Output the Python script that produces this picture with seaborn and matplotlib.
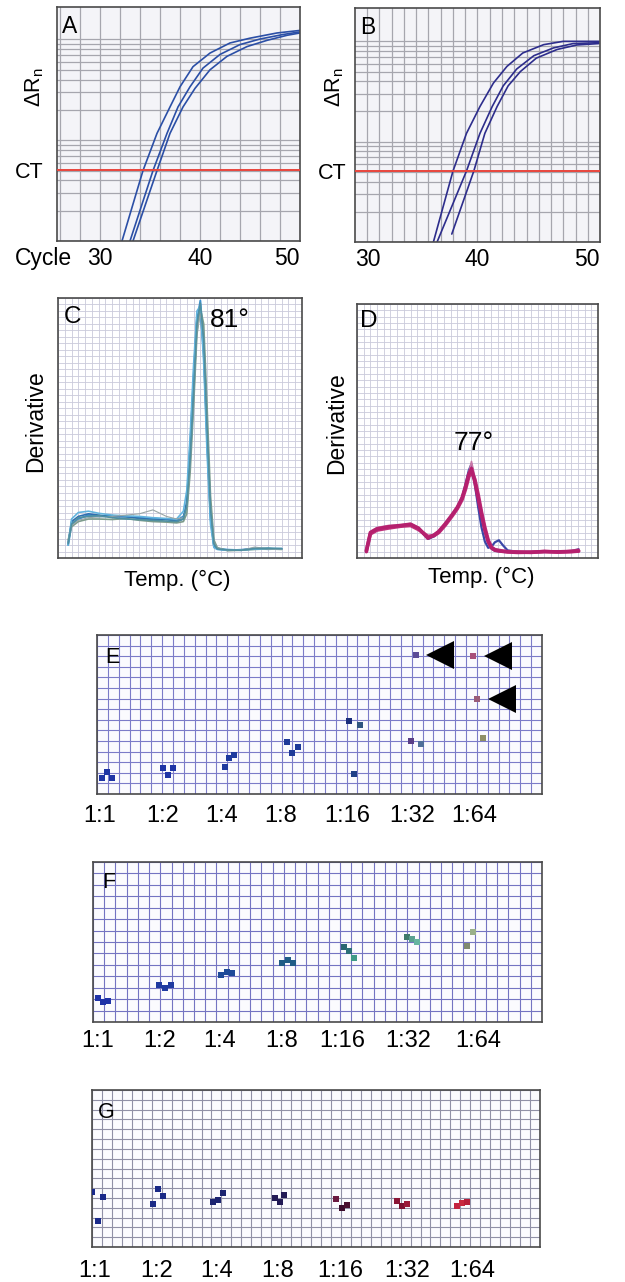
import numpy as np
import pandas as pd
import matplotlib
matplotlib.use("Agg")
import matplotlib.pyplot as plt
from matplotlib.ticker import NullFormatter
from matplotlib.transforms import ScaledTranslation
import seaborn as sns

sns.set_style("white")
plt.rcParams['font.family'] = ['Liberation Sans', 'DejaVu Sans']
plt.rcParams['mathtext.default'] = 'regular'
plt.rcParams['text.color'] = 'black'
plt.rcParams['xtick.color'] = 'black'
plt.rcParams['ytick.color'] = 'black'

# ---------------- data ----------------
# A: amplification curves (cycle, delta Rn)
a1_cycle = [32.2, 34.3, 35.7, 37.0, 38.0, 39.3, 41.0, 43.0, 45.0, 47.7, 50.0]
a1_drn = [0.010, 0.050, 0.117, 0.214, 0.339, 0.537, 0.733, 0.923, 1.03, 1.16, 1.23]
a2_cycle = [33.0, 35.3, 36.7, 37.8, 39.0, 40.3, 42.0, 44.0, 46.0, 48.3, 50.0]
a2_drn = [0.010, 0.050, 0.117, 0.214, 0.339, 0.52, 0.71, 0.89, 1.01, 1.12, 1.19]
a3_cycle = [33.3, 35.7, 37.0, 38.3, 39.5, 41.0, 42.7, 44.7, 46.7, 48.7, 50.0]
a3_drn = [0.010, 0.050, 0.117, 0.214, 0.327, 0.50, 0.68, 0.85, 0.98, 1.10, 1.16]

# B: amplification curves
b1_cycle = [36.4, 38.0, 39.1, 40.2, 41.3, 42.4, 43.7, 45.4, 47.0, 49.9]
b1_drn = [0.010, 0.051, 0.121, 0.224, 0.384, 0.562, 0.766, 0.927, 1.0, 1.0]
b2_cycle = [36.7, 39.1, 40.2, 41.2, 42.1, 43.2, 44.6, 46.2, 47.8, 49.9]
b2_drn = [0.010, 0.051, 0.121, 0.224, 0.36, 0.53, 0.72, 0.86, 0.95, 0.97]
b3_cycle = [37.9, 39.7, 40.6, 41.6, 42.5, 43.5, 44.8, 46.5, 48.1, 49.9]
b3_drn = [0.012, 0.051, 0.121, 0.224, 0.36, 0.50, 0.68, 0.83, 0.92, 0.95]

ct_threshold = 0.051

# C: melt derivative curves, peak 81 deg
c_temp = [61.5, 62, 63, 64.5, 66, 68, 70, 72, 74, 76, 77.5, 78.5, 79, 79.5, 80,
          80.5, 81, 81.5, 82, 82.5, 83, 83.5, 85, 87, 89, 91, 93]
c_curves = [
    [0.05, 0.13, 0.15, 0.165, 0.16, 0.162, 0.158, 0.155, 0.152, 0.148, 0.145, 0.16, 0.20, 0.40,
     0.65, 0.91, 0.99, 0.82, 0.47, 0.17, 0.05, 0.036, 0.032, 0.03, 0.037, 0.034, 0.036],
    [0.06, 0.14, 0.16, 0.17, 0.165, 0.158, 0.16, 0.152, 0.148, 0.15, 0.14, 0.15, 0.22, 0.44,
     0.70, 0.93, 0.95, 0.78, 0.44, 0.15, 0.045, 0.034, 0.03, 0.032, 0.035, 0.036, 0.034],
    [0.07, 0.12, 0.14, 0.15, 0.15, 0.148, 0.152, 0.145, 0.14, 0.138, 0.135, 0.14, 0.17, 0.33,
     0.58, 0.86, 0.96, 0.90, 0.58, 0.24, 0.07, 0.04, 0.028, 0.03, 0.033, 0.035, 0.033],
    [0.05, 0.15, 0.175, 0.18, 0.172, 0.165, 0.162, 0.16, 0.155, 0.152, 0.15, 0.18, 0.26, 0.47,
     0.74, 0.95, 0.97, 0.75, 0.40, 0.13, 0.04, 0.033, 0.03, 0.031, 0.034, 0.037, 0.035],
    [0.06, 0.125, 0.145, 0.155, 0.158, 0.16, 0.165, 0.17, 0.185, 0.16, 0.15, 0.155, 0.19, 0.36,
     0.60, 0.87, 0.94, 0.86, 0.52, 0.20, 0.06, 0.038, 0.03, 0.029, 0.042, 0.036, 0.034],
    [0.055, 0.13, 0.155, 0.16, 0.163, 0.155, 0.15, 0.148, 0.145, 0.142, 0.14, 0.15, 0.20, 0.38,
     0.63, 0.90, 0.98, 0.84, 0.50, 0.19, 0.055, 0.035, 0.031, 0.03, 0.036, 0.038, 0.036],
]
c_colors = ['#3a8fd0', '#2f6fb0', '#7d9c8c', '#62b4de', '#9aa6a6', '#4f8fa0']
c_widths = [1.4, 1.2, 1.2, 1.2, 0.8, 1.2]

# D: melt derivative curves, peak 77 deg
d_temp = [61.4, 62, 63, 64.7, 66.5, 68, 69.2, 70.6, 71.5, 72.2, 73.2, 74.2, 75, 75.7, 76.2,
          76.7, 77.1, 77.6, 78.1, 78.6, 79.1, 79.6, 80.1, 80.6, 81.2, 81.8, 82.5, 84, 86, 88,
          90, 92, 93.1]
d_curves = [
    [0.03, 0.10, 0.112, 0.12, 0.126, 0.13, 0.115, 0.075, 0.085, 0.10, 0.13, 0.168, 0.20, 0.24,
     0.29, 0.345, 0.37, 0.29, 0.20, 0.12, 0.065, 0.04, 0.045, 0.062, 0.07, 0.05, 0.03, 0.024,
     0.023, 0.024, 0.025, 0.027, 0.03],
    [0.028, 0.098, 0.113, 0.121, 0.127, 0.131, 0.114, 0.08, 0.092, 0.103, 0.133, 0.168, 0.198,
     0.235, 0.278, 0.33, 0.36, 0.305, 0.24, 0.172, 0.108, 0.06, 0.036, 0.028, 0.026, 0.025,
     0.024, 0.023, 0.024, 0.025, 0.026, 0.027, 0.035],
    [0.025, 0.105, 0.12, 0.128, 0.13, 0.136, 0.12, 0.082, 0.094, 0.108, 0.138, 0.172, 0.205,
     0.24, 0.285, 0.335, 0.38, 0.32, 0.245, 0.175, 0.11, 0.062, 0.038, 0.03, 0.027, 0.026,
     0.025, 0.024, 0.025, 0.026, 0.025, 0.03, 0.029],
    [0.03, 0.095, 0.11, 0.118, 0.125, 0.128, 0.112, 0.085, 0.088, 0.10, 0.13, 0.165, 0.195,
     0.23, 0.27, 0.32, 0.34, 0.31, 0.25, 0.18, 0.12, 0.07, 0.042, 0.033, 0.03, 0.027, 0.025,
     0.024, 0.022, 0.026, 0.023, 0.025, 0.027],
    [0.025, 0.10, 0.115, 0.123, 0.128, 0.133, 0.117, 0.078, 0.09, 0.104, 0.135, 0.17, 0.20,
     0.237, 0.28, 0.33, 0.352, 0.30, 0.235, 0.17, 0.11, 0.064, 0.04, 0.031, 0.028, 0.026,
     0.024, 0.022, 0.023, 0.025, 0.024, 0.026, 0.028],
]
d_colors = ['#3a48a8', '#7a3a90', '#c87aa8', '#c0307a', '#b5206e']
d_widths = [1.6, 1.6, 1.2, 2.6, 2.6]

# E, F, G: dilution series (plate cell units)
dilutions = ["1:1", "1:2", "1:4", "1:8", "1:16", "1:32", "1:64"]

e_x = [0.43, 0.89, 1.35, 6.05, 6.51, 7.03, 11.79, 12.19, 12.65, 17.53, 17.99, 18.52,
       23.19, 24.23, 23.71, 28.90, 29.88, 29.39, 34.67, 35.04, 35.54]
e_y = [1.54, 2.05, 1.54, 2.42, 1.76, 2.42, 2.55, 3.42, 3.65, 4.91, 3.90, 4.41,
       6.92, 6.54, 1.86, 5.00, 4.75, 13.11, 13.02, 8.93, 5.25]
e_col = ['#1f35a5'] * 6 + ['#1e3a9e'] * 3 + ['#1e3a98'] * 3 + \
        ['#1c2f7c', '#2f5580', '#1f3f86', '#5a3f86', '#50709a', '#5c4c96',
         '#a8507a', '#9a5c78', '#8f8f66']
e_flagged = [17, 18, 19]

f_x = [0.47, 0.92, 1.36, 5.91, 6.41, 6.91, 11.40, 11.91, 12.36, 16.81, 17.34, 17.84,
       22.39, 22.83, 23.25, 27.95, 28.39, 28.89, 33.35, 33.83]
f_y = [2.13, 1.78, 1.84, 3.24, 2.95, 3.24, 4.11, 4.40, 4.26, 5.13, 5.42, 5.13,
       6.59, 6.21, 5.57, 7.41, 7.23, 6.97, 6.65, 7.85]
f_col = ['#1f33a8'] * 3 + ['#1f3aa0'] * 3 + ['#1e4a98'] * 3 + ['#1f5c86'] * 3 + \
        ['#2a6670', '#2d6f78', '#3f9a86', '#3f7a6a', '#5aa090', '#66b4a0', '#808a70', '#9ab08a']

g_x = [0.03, 1.07, 0.57, 6.10, 6.60, 7.16, 12.12, 12.63, 13.19, 18.38, 18.88, 19.32,
       24.51, 25.08, 25.58, 30.66, 31.17, 31.67, 36.63, 37.13, 37.70]
g_y = [5.64, 5.07, 2.65, 4.38, 5.88, 5.20, 4.62, 4.79, 5.48, 4.96, 4.62, 5.30,
       4.89, 3.95, 4.28, 4.69, 4.21, 4.38, 4.21, 4.45, 4.62]
g_col = ['#1a2a8a'] * 3 + ['#1a2a86'] * 3 + ['#1c2470'] * 3 + ['#221a55'] * 3 + \
        ['#6a1a40', '#3c0c2c', '#4a1030', '#8a1535', '#7a1030', '#9a1838',
         '#c4223e', '#c8283f', '#b81e3a']

# ---------------- figure ----------------
W, H = 625, 1282
fig = plt.figure(figsize=(W / 100, H / 100), dpi=100)


def panel(left, top, right, bottom):
    ax = fig.add_axes([left / W, 1 - bottom / H, (right - left) / W, (bottom - top) / H])
    for s in ax.spines.values():
        s.set_visible(True)
        s.set_color('#4a4a4a')
        s.set_linewidth(1.2)
    ax.xaxis.remove_overlapping_locs = False
    ax.yaxis.remove_overlapping_locs = False
    return ax


log_grid = [k * 10.0 ** e for e in (-2, -1) for k in range(1, 10)] + [1.0]


def amp_panel(ax, curves, color, xlim, xgrid, ylim, letter, ct_pad):
    for cyc, val in curves:
        sns.lineplot(x=cyc, y=val, ax=ax, color=color, lw=1.2, sort=False, estimator=None)
    ax.set_yscale('log')
    ax.set_xlim(*xlim)
    ax.set_ylim(*ylim)
    ax.set_facecolor('#f4f4f8')
    ax.axhline(ct_threshold, color='#e8453c', lw=1.4, zorder=3)
    ax.set_xticks(xgrid, minor=True)
    ax.set_yticks(log_grid, minor=True)
    ax.yaxis.set_minor_formatter(NullFormatter())
    ax.set_axisbelow(True)
    ax.grid(which='minor', color='#a6a6ae', lw=0.9)
    ax.set_xticks([30, 40, 50], ['30', '40', '50'])
    ax.set_yticks([ct_threshold], ['CT'])
    ax.grid(which='major', visible=False)
    ax.tick_params(which='both', length=0)
    ax.tick_params(axis='x', labelsize=16.5, pad=4)
    ax.tick_params(axis='y', labelsize=15.5, pad=ct_pad)
    ax.text(0.02, 0.89, letter, transform=ax.transAxes, fontsize=16.5, va='baseline', ha='left')


# A
axA = panel(57, 7, 300, 241)
amp_panel(axA, [(a1_cycle, a1_drn), (a2_cycle, a2_drn), (a3_cycle, a3_drn)], '#2b4fa6',
          (25.7, 50), np.arange(26, 50, 2), (0.01, 2.1), 'A', 10)
axA.get_xticklabels()[-1].set_ha('right')
axA.text(-0.0905, 0.658, 'ΔR$_n$', transform=axA.transAxes, rotation=90,
         fontsize=15.5, ha='center', va='center')
axA.text((15 - 57) / 243, -6 / 234, 'Cycle', transform=axA.transAxes,
         fontsize=16.5, ha='left', va='top')

# B
axB = panel(355, 8, 600, 242)
amp_panel(axB, [(b1_cycle, b1_drn), (b2_cycle, b2_drn), (b3_cycle, b3_drn)], '#2d2d8c',
          (30, 50), np.arange(31, 50, 1), (0.01, 2.15), 'B', 6)
axB.get_xticklabels()[0].set_ha('left')
axB.get_xticklabels()[-1].set_ha('right')
axB.text(-0.082, 0.662, 'ΔR$_n$', transform=axB.transAxes, rotation=90,
         fontsize=15.5, ha='center', va='center')


def melt_panel(ax, temps, curves, colors, widths, letter, letter_xy, peak_text, peak_xy, peak_ha,
               ylab_xy, xlab_xy):
    for vals, col, lw in zip(curves, colors, widths):
        sns.lineplot(x=temps, y=vals, ax=ax, color=col, lw=lw, sort=False, estimator=None)
    ax.set_xlim(60, 96)
    ax.set_ylim(0, 1)
    ax.set_facecolor('white')
    ax.set_xticks(np.arange(60, 97, 1), minor=True)
    ax.set_yticks(np.arange(0, 1.0001, 0.025), minor=True)
    ax.set_xticks([])
    ax.set_yticks([])
    ax.set_axisbelow(True)
    ax.grid(which='minor', color='#cacadb', lw=0.6)
    ax.tick_params(which='both', length=0)
    ax.text(*letter_xy, letter, transform=ax.transAxes, fontsize=17.5, va='baseline', ha='left')
    ax.text(*peak_xy, peak_text, fontsize=19, va='baseline', ha=peak_ha)
    ax.text(*ylab_xy, 'Derivative', transform=ax.transAxes, rotation=90,
            fontsize=16.5, ha='center', va='center')
    ax.text(*xlab_xy, 'Temp. (°C)', transform=ax.transAxes,
            fontsize=16, ha='center', va='center')


# C
axC = panel(58, 298, 302, 558)
melt_panel(axC, c_temp, c_curves, c_colors, c_widths, 'C', (0.025, 0.904),
           '81°', (82.4, 0.89), 'left', (-0.09, 0.527), (0.488, -0.085))

# D
axD = panel(357, 304, 598, 558)
melt_panel(axD, d_temp, d_curves, d_colors, d_widths, 'D', (0.012, 0.909),
           '77°', (77.5, 0.425), 'center', (-0.083, 0.53), (0.515, -0.075))


def plate_panel(ax, xs, ys, cols, ncol, nrow, label_pos, pad, gridcolor, letter, letter_xy):
    df = pd.DataFrame({'x': xs, 'y': ys, 'c': cols})
    sns.scatterplot(data=df, x='x', y='y', hue='c', palette={c: c for c in set(cols)},
                    marker='s', s=18, linewidth=0, legend=False, ax=ax, zorder=3)
    ax.set_xlim(0, ncol)
    ax.set_ylim(0, nrow)
    ax.set_facecolor('#fbfbfe')
    ax.set_xticks(np.arange(0, ncol + 1), minor=True)
    ax.set_yticks(np.arange(0, nrow + 1), minor=True)
    ax.set_yticks([])
    ax.set_xticks(label_pos, dilutions)
    ax.set_axisbelow(True)
    ax.grid(which='minor', color=gridcolor, lw=0.8)
    ax.grid(which='major', visible=False)
    ax.tick_params(which='both', length=0)
    ax.tick_params(axis='x', labelsize=17, pad=pad)
    ax.set_xlabel('')
    ax.set_ylabel('')
    ax.text(*letter_xy, letter, transform=ax.transAxes, fontsize=15.5, va='baseline', ha='left')
    return df


# E
axE = panel(97, 635, 542, 794)
dfE = plate_panel(axE, e_x, e_y, e_col, 41, 15,
                  [0.28, 6.08, 11.52, 16.95, 23.03, 29.02, 34.73], 8, '#7c7cc8',
                  'E', (0.018, 0.822))
shift = axE.transData + ScaledTranslation(0.245, 0, fig.dpi_scale_trans)
flag = dfE.iloc[e_flagged]
axE.plot(flag['x'], flag['y'], ls='none', marker='<', ms=19.5, mew=0, color='black',
         transform=shift, zorder=4, clip_on=False)

# F
axF = panel(93, 862, 542, 1022)
plate_panel(axF, f_x, f_y, f_col, 40, 14,
            [0.45, 5.97, 11.31, 16.84, 22.18, 28.06, 34.30], 5.8, '#7474c2',
            'F', (0.02, 0.836))

# G
axG = panel(92, 1090, 540, 1247)
plate_panel(axG, g_x, g_y, g_col, 45, 16,
            [0.30, 6.53, 12.56, 18.68, 24.91, 31.64, 38.17], 9.4, '#9090a6',
            'G', (0.0134, 0.82))

fig.savefig('out.png', dpi=100)
